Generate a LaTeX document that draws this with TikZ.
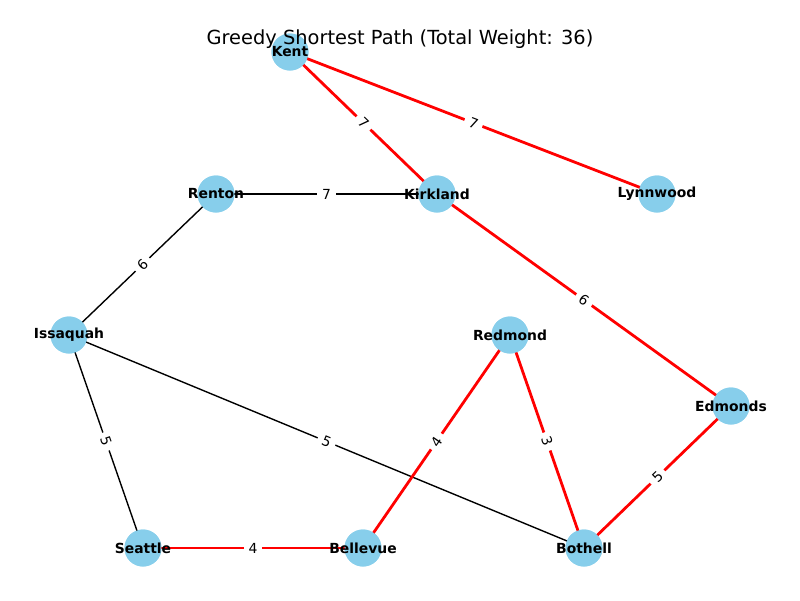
\documentclass[tikz,border=0pt]{standalone}
\usepackage{fontspec}
\setmainfont{DejaVu Sans}
\definecolor{skyblue}{HTML}{87CEEB}
\tikzset{
  city/.style={circle, fill=skyblue, minimum size=37pt, inner sep=0pt, font=\fontsize{13.9}{16}\selectfont\bfseries},
  pathedge/.style={draw=red, line width=2.78pt},
  plainedge/.style={draw=black, line width=1.39pt},
  wlabel/.style={midway, sloped, fill=white, inner xsep=5pt, inner ysep=2pt, font=\fontsize{13.9}{16}\selectfont}
}
\begin{document}
\begin{tikzpicture}[x=1pt,y=-1pt]
\useasboundingbox (0,0) rectangle (800,600);
% node positions
\coordinate (pKent) at (290,52);
\coordinate (pRenton) at (216,194);
\coordinate (pKirkland) at (437,194);
\coordinate (pLynnwood) at (657,194);
\coordinate (pIssaquah) at (69,335);
\coordinate (pRedmond) at (510,335);
\coordinate (pEdmonds) at (731,406);
\coordinate (pSeattle) at (143,548);
\coordinate (pBellevue) at (363,548);
\coordinate (pBothell) at (584,548);
% circles
\foreach \n in {Kent,Renton,Kirkland,Lynnwood,Issaquah,Redmond,Edmonds,Seattle,Bellevue,Bothell}
  \node[city] (c\n) at (p\n) {};
% edges
\draw[pathedge] (pKent) -- (pKirkland) node[wlabel] {7};
\draw[pathedge] (pKent) -- (pLynnwood) node[wlabel] {7};
\draw[plainedge] (pRenton) -- (pKirkland) node[wlabel] {7};
\draw[plainedge] (pRenton) -- (pIssaquah) node[wlabel] {6};
\draw[pathedge] (pKirkland) -- (pEdmonds) node[wlabel] {6};
\draw[plainedge] (pIssaquah) -- (pSeattle) node[wlabel] {5};
\draw[plainedge] (pIssaquah) -- (pBothell) node[wlabel] {5};
\draw[pathedge] (pRedmond) -- (pBellevue) node[wlabel] {4};
\draw[pathedge] (pRedmond) -- (pBothell) node[wlabel] {3};
\draw[pathedge] (pEdmonds) -- (pBothell) node[wlabel] {5};
\draw[pathedge] (pSeattle) -- (pBellevue) node[wlabel] {4};
% redraw circles on top
\foreach \n in {Kent,Renton,Kirkland,Lynnwood,Issaquah,Redmond,Edmonds,Seattle,Bellevue,Bothell}
  \fill[skyblue] (p\n) circle (18.5);
% title
\node[font=\fontsize{19.4}{23}\selectfont] (title) at (400,39) {Greedy Shortest Path (Total Weight: 36)};
% labels
\foreach \n in {Kent,Renton,Kirkland,Lynnwood,Issaquah,Redmond,Edmonds,Seattle,Bellevue,Bothell}
  \node[font=\fontsize{13.9}{16}\selectfont\bfseries, inner sep=0pt] (l\n) at (p\n) {\n};
\end{tikzpicture}
\end{document}
